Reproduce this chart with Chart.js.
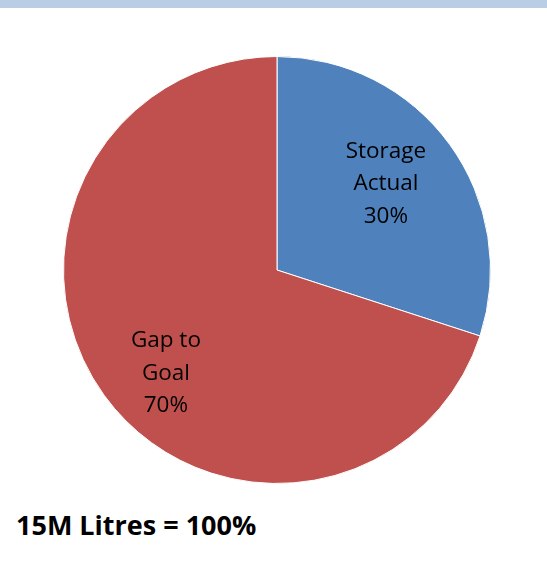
<!DOCTYPE html>
<html>
<head>
<meta charset="utf-8">
<script src="https://cdn.jsdelivr.net/npm/chart.js@4.4.1/dist/chart.umd.min.js"></script>
<style>
  html, body { margin: 0; padding: 0; background: #fff; }
  body { width: 547px; height: 576px; position: relative; overflow: hidden; }
  #topBar { position: absolute; left: 0; top: 0; width: 547px; height: 8px; background: #b9cde5; }
  #pieBox { position: absolute; left: 63px; top: 56px; width: 428px; height: 428px; }
  #note { position: absolute; left: 16px; top: 506px; font-family: "Open Sans", sans-serif; font-weight: bold; font-size: 27px; color: #000; white-space: nowrap; }
</style>
</head>
<body>
<div id="topBar"></div>
<div id="pieBox"><canvas id="pieChart"></canvas></div>
<div id="note">15M Litres = 100%</div>
<script>
// data
const categories = ['Storage Actual', 'Gap to Goal'];
const labelLines = [['Storage', 'Actual'], ['Gap to', 'Goal']];
const shareValues = [30, 70];
const sliceColors = ['#4f81bd', '#c0504d'];

// label placement: fraction of radius + angle nudge (radians)
const labelPlace = [
    { r: 0.65, da: -0.04 },
    { r: 0.71, da: -0.12 }
];

const sliceLabels = {
    id: 'sliceLabels',
    afterDatasetsDraw(chart) {
        const ctx = chart.ctx;
        const meta = chart.getDatasetMeta(0);
        ctx.save();
        ctx.fillStyle = '#000';
        ctx.font = '22.5px "Open Sans", sans-serif';
        ctx.textAlign = 'center';
        ctx.textBaseline = 'middle';
        meta.data.forEach((arc, i) => {
            const p = arc.getProps(['x', 'y', 'startAngle', 'endAngle', 'outerRadius'], true);
            const mid = (p.startAngle + p.endAngle) / 2 + labelPlace[i].da;
            const cx = p.x + Math.cos(mid) * p.outerRadius * labelPlace[i].r;
            const cy = p.y + Math.sin(mid) * p.outerRadius * labelPlace[i].r;
            const lines = labelLines[i].concat([shareValues[i] + '%']);
            const lh = 32.5;
            lines.forEach((t, k) => {
                ctx.fillText(t, cx, cy + (k - (lines.length - 1) / 2) * lh);
            });
        });
        ctx.restore();
    }
};

const ctx = document.getElementById('pieChart').getContext('2d');
new Chart(ctx, {
    type: 'pie',
    data: {
        labels: categories,
        datasets: [{
            data: shareValues,
            backgroundColor: sliceColors,
            borderColor: '#ffffff',
            borderWidth: 1
        }]
    },
    options: {
        responsive: true,
        maintainAspectRatio: false,
        animation: false,
        layout: { padding: 0 },
        plugins: {
            legend: { display: false },
            tooltip: { enabled: false }
        }
    },
    plugins: [sliceLabels]
});
</script>
</body>
</html>
